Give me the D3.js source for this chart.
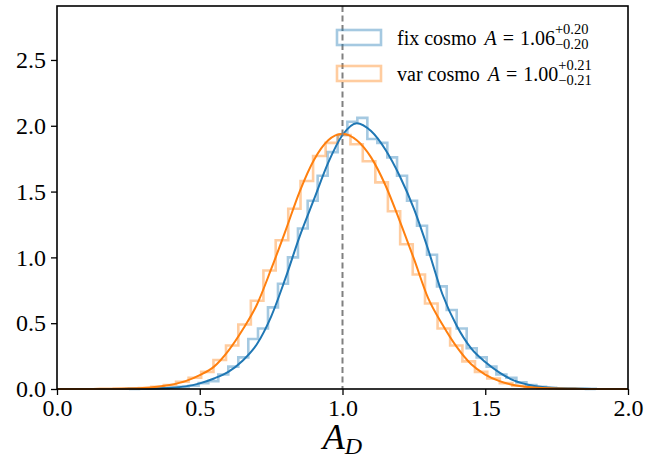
<!DOCTYPE html>
<html>
<head>
<meta charset="utf-8">
<script src="https://cdn.jsdelivr.net/npm/d3@7"></script>
<style>
  body { margin: 0; background: #fff; }
  svg text { font-family: 'Liberation Serif', 'DejaVu Serif', serif; fill: #000; }
</style>
</head>
<body>
<div id="chart"></div>
<script>
// KDE curves, sampled every 0.05 on [0, 2]
const kdeX = [0.00, 0.05, 0.10, 0.15, 0.20, 0.25, 0.30, 0.35, 0.40, 0.45,
              0.50, 0.55, 0.60, 0.65, 0.70, 0.75, 0.80, 0.85, 0.90, 0.95,
              1.00, 1.05, 1.10, 1.15, 1.20, 1.25, 1.30, 1.35, 1.40, 1.45,
              1.50, 1.55, 1.60, 1.65, 1.70, 1.75, 1.80, 1.85, 1.90, 1.95, 2.00]
const fixKde = [0, 0, 0, 0, 0.0003, 0.001, 0.002, 0.004, 0.009, 0.02,
                0.043, 0.08, 0.13, 0.215, 0.34, 0.55, 0.84, 1.16, 1.44, 1.72,
                1.93, 2.02, 1.96, 1.82, 1.62, 1.37, 1.06, 0.72, 0.48, 0.31,
                0.205, 0.125, 0.065, 0.032, 0.015, 0.007, 0.003, 0.001, 0.0005, 0, 0]
const varKde = [0, 0.0002, 0.0005, 0.001, 0.002, 0.004, 0.008, 0.017, 0.033, 0.06,
                0.106, 0.17, 0.29, 0.45, 0.64, 0.91, 1.20, 1.50, 1.74, 1.89,
                1.94, 1.89, 1.76, 1.55, 1.28, 0.99, 0.69, 0.49, 0.32, 0.19,
                0.11, 0.06, 0.03, 0.015, 0.007, 0.003, 0.0015, 0.0005, 0.0002, 0, 0]

// step histograms (bin edges + density per bin)
const fixEdges = [0.252, 0.287, 0.322, 0.356, 0.391, 0.426, 0.461, 0.496, 0.530, 0.565,
                  0.600, 0.635, 0.670, 0.704, 0.739, 0.774, 0.809, 0.844, 0.878, 0.913,
                  0.948, 0.983, 1.017, 1.052, 1.087, 1.122, 1.157, 1.191, 1.226, 1.261,
                  1.296, 1.331, 1.365, 1.400, 1.435, 1.470, 1.505, 1.539, 1.574, 1.609,
                  1.644, 1.679, 1.713, 1.748, 1.783, 1.818, 1.853, 1.887]
const fixHist = [0.001, 0.002, 0.003, 0.005, 0.009, 0.016, 0.025, 0.045, 0.06, 0.11,
                 0.17, 0.24, 0.38, 0.46, 0.62, 0.80, 1.00, 1.22, 1.43, 1.62,
                 1.80, 1.93, 2.03, 2.06, 1.90, 1.87, 1.76, 1.62, 1.43, 1.24,
                 1.02, 0.78, 0.60, 0.46, 0.31, 0.24, 0.17, 0.11, 0.085, 0.05,
                 0.03, 0.017, 0.01, 0.006, 0.004, 0.002, 0.001]
const varEdges = [0.199, 0.243, 0.287, 0.330, 0.374, 0.417, 0.461, 0.505, 0.548, 0.592,
                  0.635, 0.679, 0.723, 0.766, 0.810, 0.853, 0.897, 0.941, 0.984, 1.028,
                  1.071, 1.115, 1.159, 1.202, 1.246, 1.289, 1.333, 1.377, 1.420, 1.464,
                  1.507, 1.551, 1.595, 1.638, 1.682, 1.725, 1.769, 1.813]
const varHist = [0.002, 0.004, 0.008, 0.016, 0.03, 0.055, 0.085, 0.13, 0.22, 0.33,
                 0.49, 0.67, 0.90, 1.13, 1.37, 1.58, 1.77, 1.87, 1.93, 1.86,
                 1.73, 1.57, 1.35, 1.10, 0.87, 0.65, 0.46, 0.33, 0.21, 0.13,
                 0.08, 0.045, 0.025, 0.013, 0.007, 0.003, 0.0015]

const xTicks = [0.0, 0.5, 1.0, 1.5, 2.0]
const yTicks = [0.0, 0.5, 1.0, 1.5, 2.0, 2.5]
const refLine = 1.0

const series = [
    {name: 'fix cosmo', value: '1.06', up: '+0.20', down: '\u22120.20',
     color: '#1f77b4', edges: fixEdges, hist: fixHist, kde: fixKde},
    {name: 'var cosmo', value: '1.00', up: '+0.21', down: '\u22120.21',
     color: '#ff7f0e', edges: varEdges, hist: varHist, kde: varKde},
]

const width = 658, height = 461
const margin = {top: 6, right: 30, bottom: 72, left: 57}
const plotW = width - margin.left - margin.right
const plotH = height - margin.top - margin.bottom

const xScale = d3.scaleLinear().domain([0, 2]).range([0, plotW])
const yScale = d3.scaleLinear().domain([0, 2.91]).range([plotH, 0])

const svg = d3.select('#chart').append('svg')
    .attr('width', width)
    .attr('height', height)

const g = svg.append('g')
    .attr('transform', `translate(${margin.left}, ${margin.top})`)

// step outlines, matplotlib histtype='step' style
function stepPoints(edges, hist) {
    const pts = [[edges[0], 0]]
    hist.forEach((v, i) => {
        pts.push([edges[i], v])
        pts.push([edges[i + 1], v])
    })
    pts.push([edges[edges.length - 1], 0])
    return pts
}
const stepLine = d3.line().x(d => xScale(d[0])).y(d => yScale(d[1]))
const kdeLine = d3.line()
    .x((d, i) => xScale(kdeX[i]))
    .y(d => yScale(d))
    .curve(d3.curveMonotoneX)

series.forEach(s => {
    g.append('path')
        .attr('d', stepLine(stepPoints(s.edges, s.hist)))
        .attr('fill', 'none')
        .attr('stroke', s.color)
        .attr('stroke-opacity', 0.4)
        .attr('stroke-width', 2.6)
})
series.forEach(s => {
    g.append('path')
        .attr('d', kdeLine(s.kde))
        .attr('fill', 'none')
        .attr('stroke', s.color)
        .attr('stroke-width', 2)
})

// dashed reference line
g.append('line')
    .attr('x1', xScale(refLine)).attr('x2', xScale(refLine))
    .attr('y1', 0).attr('y2', plotH)
    .attr('stroke', '#808080')
    .attr('stroke-width', 2)
    .attr('stroke-dasharray', '6,3.5')

// frame
g.append('rect')
    .attr('width', plotW).attr('height', plotH)
    .attr('fill', 'none')
    .attr('stroke', '#000')
    .attr('stroke-width', 1.6)

// axes
const xAxis = d3.axisBottom(xScale).tickValues(xTicks).tickFormat(d3.format('.1f'))
    .tickSizeOuter(0).tickSizeInner(6).tickPadding(4)
const yAxis = d3.axisLeft(yScale).tickValues(yTicks).tickFormat(d3.format('.1f'))
    .tickSizeOuter(0).tickSizeInner(6).tickPadding(5)

const gx = g.append('g').attr('transform', `translate(0, ${plotH})`).call(xAxis)
const gy = g.append('g').call(yAxis)
;[gx, gy].forEach(a => {
    a.select('.domain').remove()
    a.selectAll('.tick line').attr('stroke', '#000').attr('stroke-width', 1.3)
    a.selectAll('.tick text')
        .style('font-family', "'Liberation Serif', serif")
        .attr('font-size', 24)
        .attr('fill', '#000')
})

// x label A_D
const xl = svg.append('text')
    .attr('x', margin.left + plotW / 2)
    .attr('y', 449)
    .attr('text-anchor', 'middle')
    .style('font-style', 'italic')
xl.append('tspan').attr('font-size', 36).text('A')
xl.append('tspan').attr('font-size', 24).attr('dy', 5).text('D')

// legend
const legend = svg.append('g')
series.forEach((s, i) => {
    const y0 = 30 + i * 36
    legend.append('rect')
        .attr('x', 337).attr('y', y0)
        .attr('width', 44).attr('height', 15)
        .attr('fill', 'none')
        .attr('stroke', s.color)
        .attr('stroke-opacity', 0.4)
        .attr('stroke-width', 2.6)
    const base = y0 + 15
    const t = legend.append('text')
        .attr('x', 397).attr('y', base)
        .attr('font-size', 20)
    t.append('tspan').text(s.name + ' ')
    t.append('tspan').attr('dx', 3).style('font-style', 'italic').text('A')
    t.append('tspan').attr('dx', 6).text('=')
    t.append('tspan').attr('dx', 6).text(s.value)
    const endX = 397 + t.node().getComputedTextLength() + 15
    legend.append('text').attr('x', endX).attr('y', base - 11)
        .attr('font-size', 14.5).text(s.up)
    legend.append('text').attr('x', endX).attr('y', base + 4)
        .attr('font-size', 14.5).text(s.down)
})
</script>
</body>
</html>
